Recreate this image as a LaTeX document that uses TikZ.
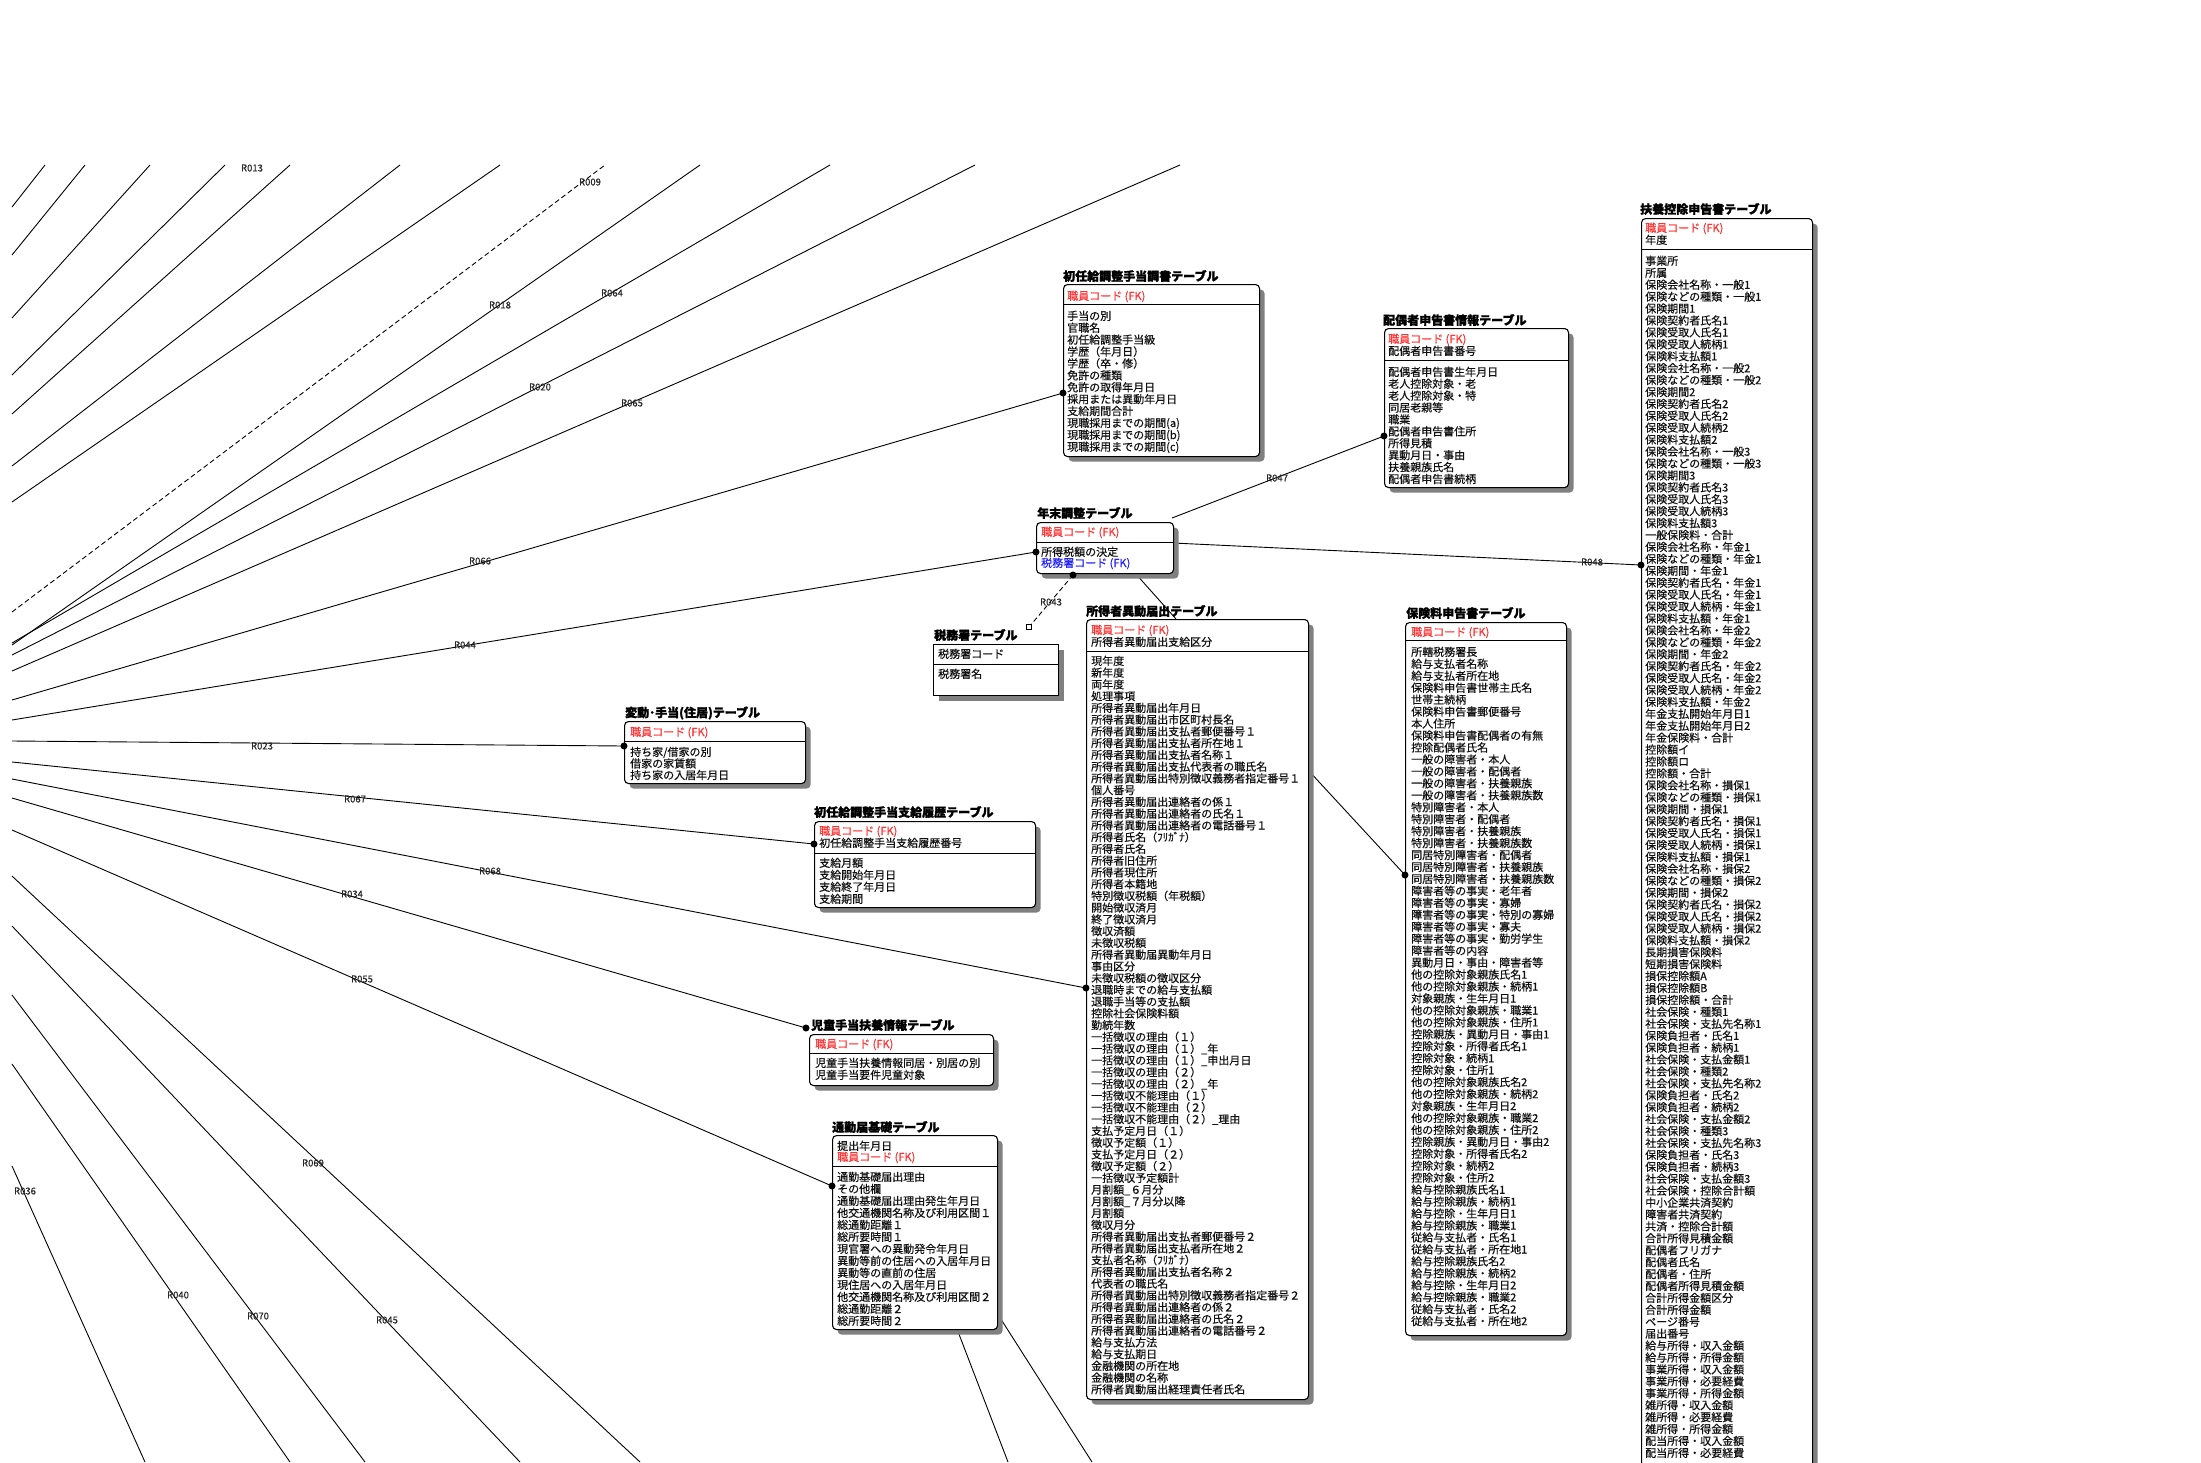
\documentclass[tikz,border=0pt]{standalone}
\usepackage{fontspec}
\setmainfont{Noto Sans CJK JP}
\newfontfamily\attrfont{Noto Sans CJK JP}[FakeBold=0.45]
\newfontfamily\heavyfont{Noto Sans CJK JP}[FakeBold=1.6]
\usetikzlibrary{shadows}
\definecolor{fkred}{HTML}{FF3333}
\definecolor{fkblue}{HTML}{2222FF}
\definecolor{txt}{HTML}{111111}
\tikzset{
 tbox/.style={draw=black, line width=1.1pt, rounded corners=4pt, fill=white, inner sep=0pt, anchor=north west,
   drop shadow={shadow xshift=5pt, shadow yshift=-5pt, fill=black!50, opacity=1}},
 tboxsq/.style={tbox, rounded corners=0pt},
 ttl/.style={font=\heavyfont\fontsize{12}{12}\selectfont\bfseries, anchor=west, inner sep=0pt, text=black},
 attr/.style={font=\attrfont\fontsize{11}{12}\selectfont, anchor=base west, inner sep=0pt, text=txt},
 fkattr/.style={attr, text=fkred},
 fbattr/.style={attr, text=fkblue},
 divl/.style={line width=1pt},
 rline/.style={line width=0.9pt, draw=black},
 rlab/.style={font=\attrfont\fontsize{9.5}{10}\selectfont, text=black!85, inner sep=0.5pt},
 cdot/.style={circle, fill=black, inner sep=0pt, minimum size=7pt},
}
\newcommand\attrlist[5]{%
  \foreach \t [count=\i from 0] in {#5} {\node[attr] (#1\i) at ({#2},{#3+4+\i*#4}) {\t};}}
\begin{document}
\begin{tikzpicture}[x=1pt,y=-1pt]
\path[use as bounding box] (0,0) rectangle (2201,1462);
\clip (0,0) rectangle (2201,1462);
\fill[white] (0,0) rectangle (2201,1462);

% ---------- free ends of the fan ----------
\coordinate (la1) at (12,207);  \coordinate (ta1) at (45,165);
\coordinate (la2) at (12,255);  \coordinate (ta2) at (85,165);
\coordinate (la3) at (12,318);  \coordinate (ta3) at (150,165);
\coordinate (la4) at (12,375);  \coordinate (ta4) at (225,165);
\coordinate (la5) at (12,414);  \coordinate (ta5) at (290,165);
\coordinate (la6) at (12,466);  \coordinate (ta6) at (400,165);
\coordinate (la7) at (12,502);  \coordinate (ta7) at (500,165);
\coordinate (l09) at (12,612);  \coordinate (t09) at (605,165);
\coordinate (l18) at (12,645);  \coordinate (t18) at (700,165);
\coordinate (l64) at (12,643);  \coordinate (t64) at (830,165);
\coordinate (l20) at (12,655);  \coordinate (t20) at (975,165);
\coordinate (l65) at (12,671);  \coordinate (t65) at (1180,165);
\coordinate (l66) at (12,700);  \coordinate (e66) at (1063,393);
\coordinate (l44) at (12,720);  \coordinate (e44) at (1036,552);
\coordinate (l23) at (12,741);  \coordinate (e23) at (624,746);
\coordinate (l67) at (12,762);  \coordinate (e67) at (814,844);
\coordinate (l68) at (12,779);  \coordinate (e68) at (1086,988);
\coordinate (l34) at (12,798);  \coordinate (e34) at (806,1028);
\coordinate (l55) at (12,830);  \coordinate (e55) at (832,1186);
\coordinate (l69) at (12,876);  \coordinate (b69) at (640,1462);
\coordinate (l45) at (12,926);  \coordinate (b45) at (520,1462);
\coordinate (l70) at (12,995);  \coordinate (b70) at (365,1462);
\coordinate (l40) at (12,1064); \coordinate (b40) at (290,1462);
\coordinate (l36) at (12,1166); \coordinate (b36) at (145,1462);

\foreach \k in {1,...,7} {\draw[rline] (la\k) -- (ta\k);}
\draw[rline, dash pattern=on 5pt off 3pt] (l09) -- (t09);
\foreach \k in {18,64,20,65} {\draw[rline] (l\k) -- (t\k);}
\foreach \k in {66,44,23,67,68,34,55} {\draw[rline] (l\k) -- (e\k);}
\foreach \k in {69,45,70,40,36} {\draw[rline] (l\k) -- (b\k);}

% ---------- connectors between tables ----------
\coordinate (nmA) at (1172,518); \coordinate (e47) at (1384,436);
\coordinate (nmB) at (1173,543); \coordinate (e48) at (1641,565);
\coordinate (nmC) at (1135,573); \coordinate (siT) at (1176,619);
\coordinate (e43) at (1073,575);
\coordinate (siR) at (1308,770); \coordinate (eHK) at (1405,875);
\coordinate (tkB1) at (957,1329); \coordinate (bT1) at (1008,1462);
\coordinate (tkB2) at (997,1313); \coordinate (bT2) at (1092,1462);
\draw[rline] (nmA) -- (e47);
\draw[rline] (nmB) -- (e48);
\draw[rline] (nmC) -- (siT);
\draw[rline] (siR) -- (eHK);
\draw[rline] (tkB1) -- (bT1);
\draw[rline] (tkB2) -- (bT2);
\node[draw, fill=white, minimum size=5pt, inner sep=0pt, line width=0.7pt] (sq43) at (1029,627) {};
\draw[rline, dash pattern=on 5pt off 3pt] (e43) -- (sq43);

% ---------- 初任給調整手当調書テーブル ----------
\node[ttl] (skT) at (1063,276) {初任給調整手当調書テーブル};
\node[tbox, minimum width=196pt, minimum height=172pt] (sk) at (1063,284) {};
\draw[divl] ([yshift=-20pt]sk.north west) -- ([yshift=-20pt]sk.north east);
\node[fkattr] (skK) at (1067,300) {職員コード (FK)};
\attrlist{sk}{1067}{316}{11.9}{手当の別,官職名,初任給調整手当級,学歴（年月日）,学歴（卒・修）,免許の種類,免許の取得年月日,採用または異動年月日,支給期間合計,現職採用までの期間(a),現職採用までの期間(b),現職採用までの期間(c)}

% ---------- 配偶者申告書情報テーブル ----------
\node[ttl] (hsT) at (1383,320) {配偶者申告書情報テーブル};
\node[tbox, minimum width=184pt, minimum height=159pt] (hs) at (1384,328) {};
\draw[divl] ([yshift=-32pt]hs.north west) -- ([yshift=-32pt]hs.north east);
\node[fkattr] (hsK1) at (1388,343) {職員コード (FK)};
\node[attr] (hsK2) at (1388,355) {配偶者申告書番号};
\attrlist{hs}{1388}{372}{11.9}{配偶者申告書生年月日,老人控除対象・老,老人控除対象・特,同居老親等,職業,配偶者申告書住所,所得見積,異動月日・事由,扶養親族氏名,配偶者申告書続柄}

% ---------- 扶養控除申告書テーブル ----------
\node[ttl] (fyT) at (1640,209) {扶養控除申告書テーブル};
\node[tbox, minimum width=171pt, minimum height=1300pt] (fy) at (1641,218) {};
\draw[divl] ([yshift=-31pt]fy.north west) -- ([yshift=-31pt]fy.north east);
\node[fkattr] (fyK1) at (1645,232) {職員コード (FK)};
\node[attr] (fyK2) at (1645,244) {年度};
\attrlist{fy}{1645}{261}{11.92}{事業所,所属,保険会社名称・一般1,保険などの種類・一般1,保険期間1,保険契約者氏名1,保険受取人氏名1,保険受取人続柄1,保険料支払額1,保険会社名称・一般2,保険などの種類・一般2,保険期間2,保険契約者氏名2,保険受取人氏名2,保険受取人続柄2,保険料支払額2,保険会社名称・一般3,保険などの種類・一般3,保険期間3,保険契約者氏名3,保険受取人氏名3,保険受取人続柄3,保険料支払額3,一般保険料・合計,保険会社名称・年金1,保険などの種類・年金1,保険期間・年金1,保険契約者氏名・年金1,保険受取人氏名・年金1,保険受取人続柄・年金1,保険料支払額・年金1,保険会社名称・年金2,保険などの種類・年金2,保険期間・年金2,保険契約者氏名・年金2,保険受取人氏名・年金2,保険受取人続柄・年金2,保険料支払額・年金2,年金支払開始年月日1,年金支払開始年月日2,年金保険料・合計,控除額イ,控除額ロ,控除額・合計,保険会社名称・損保1,保険などの種類・損保1,保険期間・損保1,保険契約者氏名・損保1,保険受取人氏名・損保1,保険受取人続柄・損保1,保険料支払額・損保1,保険会社名称・損保2,保険などの種類・損保2,保険期間・損保2,保険契約者氏名・損保2,保険受取人氏名・損保2,保険受取人続柄・損保2,保険料支払額・損保2,長期損害保険料,短期損害保険料,損保控除額A,損保控除額B,損保控除額・合計,社会保険・種類1,社会保険・支払先名称1,保険負担者・氏名1,保険負担者・続柄1,社会保険・支払金額1,社会保険・種類2,社会保険・支払先名称2,保険負担者・氏名2,保険負担者・続柄2,社会保険・支払金額2,社会保険・種類3,社会保険・支払先名称3,保険負担者・氏名3,保険負担者・続柄3,社会保険・支払金額3,社会保険・控除合計額,中小企業共済契約,障害者共済契約,共済・控除合計額,合計所得見積金額,配偶者フリガナ,配偶者氏名,配偶者・住所,配偶者所得見積金額,合計所得金額区分,合計所得金額,ページ番号,届出番号,給与所得・収入金額,給与所得・所得金額,事業所得・収入金額,事業所得・必要経費,事業所得・所得金額,雑所得・収入金額,雑所得・必要経費,雑所得・所得金額,配当所得・収入金額,配当所得・必要経費}

% ---------- 年末調整テーブル ----------
\node[ttl] (nmT) at (1037,513) {年末調整テーブル};
\node[tbox, minimum width=137pt, minimum height=51pt] (nm) at (1036,522) {};
\draw[divl] ([yshift=-20pt]nm.north west) -- ([yshift=-20pt]nm.north east);
\node[fkattr] (nmK) at (1041,536) {職員コード (FK)};
\node[attr] (nm0) at (1041,556) {所得税額の決定};
\node[fbattr] (nm1) at (1041,567) {税務署コード (FK)};

% ---------- 税務署テーブル ----------
\node[ttl] (zmT) at (934,635) {税務署テーブル};
\node[tboxsq, minimum width=125pt, minimum height=51pt] (zm) at (933,644) {};
\draw[divl] ([yshift=-20pt]zm.north west) -- ([yshift=-20pt]zm.north east);
\node[attr] (zmK) at (938,658) {税務署コード};
\node[attr] (zm0) at (938,678) {税務署名};

% ---------- 所得者異動届出テーブル ----------
\node[ttl] (siTt) at (1086,611) {所得者異動届出テーブル};
\node[tbox, minimum width=222pt, minimum height=780pt] (si) at (1086,619) {};
\draw[divl] ([yshift=-32pt]si.north west) -- ([yshift=-32pt]si.north east);
\node[fkattr] (siK1) at (1091,634) {職員コード (FK)};
\node[attr] (siK2) at (1091,646) {所得者異動届出支給区分};
\attrlist{si}{1091}{661}{11.75}{現年度,新年度,両年度,処理事項,所得者異動届出年月日,所得者異動届出市区町村長名,所得者異動届出支払者郵便番号１,所得者異動届出支払者所在地１,所得者異動届出支払者名称１,所得者異動届出支払代表者の職氏名,所得者異動届出特別徴収義務者指定番号１,個人番号,所得者異動届出連絡者の係１,所得者異動届出連絡者の氏名１,所得者異動届出連絡者の電話番号１,所得者氏名（ﾌﾘｶﾞﾅ）,所得者氏名,所得者旧住所,所得者現住所,所得者本籍地,特別徴収税額（年税額）,開始徴収済月,終了徴収済月,徴収済額,未徴収税額,所得者異動届異動年月日,事由区分,未徴収税額の徴収区分,退職時までの給与支払額,退職手当等の支払額,控除社会保険料額,勤続年数,一括徴収の理由（１）,一括徴収の理由（１）\_年,一括徴収の理由（１）\_申出月日,一括徴収の理由（２）,一括徴収の理由（２）\_年,一括徴収不能理由（１）,一括徴収不能理由（２）,一括徴収不能理由（２）\_理由,支払予定月日（１）,徴収予定額（１）,支払予定月日（２）,徴収予定額（２）,一括徴収予定額計,月割額\_６月分,月割額\_７月分以降,月割額,徴収月分,所得者異動届出支払者郵便番号２,所得者異動届出支払者所在地２,支払者名称（ﾌﾘｶﾞﾅ）,所得者異動届出支払者名称２,代表者の職氏名,所得者異動届出特別徴収義務者指定番号２,所得者異動届出連絡者の係２,所得者異動届出連絡者の氏名２,所得者異動届出連絡者の電話番号２,給与支払方法,給与支払期日,金融機関の所在地,金融機関の名称,所得者異動届出経理責任者氏名}

% ---------- 保険料申告書テーブル ----------
\node[ttl] (hkT) at (1406,613) {保険料申告書テーブル};
\node[tbox, minimum width=161pt, minimum height=713pt] (hk) at (1405,622) {};
\draw[divl] ([yshift=-18pt]hk.north west) -- ([yshift=-18pt]hk.north east);
\node[fkattr] (hkK) at (1411,636) {職員コード (FK)};
\attrlist{hk}{1411}{652}{11.95}{所轄税務署長,給与支払者名称,給与支払者所在地,保険料申告書世帯主氏名,世帯主続柄,保険料申告書郵便番号,本人住所,保険料申告書配偶者の有無,控除配偶者氏名,一般の障害者・本人,一般の障害者・配偶者,一般の障害者・扶養親族,一般の障害者・扶養親族数,特別障害者・本人,特別障害者・配偶者,特別障害者・扶養親族,特別障害者・扶養親族数,同居特別障害者・配偶者,同居特別障害者・扶養親族,同居特別障害者・扶養親族数,障害者等の事実・老年者,障害者等の事実・寡婦,障害者等の事実・特別の寡婦,障害者等の事実・寡夫,障害者等の事実・勤労学生,障害者等の内容,異動月日・事由・障害者等,他の控除対象親族氏名1,他の控除対象親族・続柄1,対象親族・生年月日1,他の控除対象親族・職業1,他の控除対象親族・住所1,控除親族・異動月日・事由1,控除対象・所得者氏名1,控除対象・続柄1,控除対象・住所1,他の控除対象親族氏名2,他の控除対象親族・続柄2,対象親族・生年月日2,他の控除対象親族・職業2,他の控除対象親族・住所2,控除親族・異動月日・事由2,控除対象・所得者氏名2,控除対象・続柄2,控除対象・住所2,給与控除親族氏名1,給与控除親族・続柄1,給与控除・生年月日1,給与控除親族・職業1,従給与支払者・氏名1,従給与支払者・所在地1,給与控除親族氏名2,給与控除親族・続柄2,給与控除・生年月日2,給与控除親族・職業2,従給与支払者・氏名2,従給与支払者・所在地2}

% ---------- 変動･手当(住居)テーブル ----------
\node[ttl] (hdT) at (625,713) {変動･手当(住居)テーブル};
\node[tbox, minimum width=181pt, minimum height=62pt] (hd) at (624,721) {};
\draw[divl] ([yshift=-20pt]hd.north west) -- ([yshift=-20pt]hd.north east);
\node[fkattr] (hdK) at (630,736) {職員コード (FK)};
\attrlist{hd}{630}{752}{11.6}{持ち家/借家の別,借家の家賃額,持ち家の入居年月日}

% ---------- 初任給調整手当支給履歴テーブル ----------
\node[ttl] (srT) at (814,812) {初任給調整手当支給履歴テーブル};
\node[tbox, minimum width=221pt, minimum height=86pt] (sr) at (814,821) {};
\draw[divl] ([yshift=-32pt]sr.north west) -- ([yshift=-32pt]sr.north east);
\node[fkattr] (srK1) at (819,835) {職員コード (FK)};
\node[attr] (srK2) at (819,847) {初任給調整手当支給履歴番号};
\attrlist{sr}{819}{863}{12}{支給月額,支給開始年月日,支給終了年月日,支給期間}

% ---------- 児童手当扶養情報テーブル ----------
\node[ttl] (jdT) at (811,1025) {児童手当扶養情報テーブル};
\node[tbox, minimum width=184pt, minimum height=51pt] (jd) at (809,1034) {};
\draw[divl] ([yshift=-19pt]jd.north west) -- ([yshift=-19pt]jd.north east);
\node[fkattr] (jdK) at (815,1048) {職員コード (FK)};
\attrlist{jd}{815}{1063}{12}{児童手当扶養情報同居・別居の別,児童手当要件児童対象}

% ---------- 通勤届基礎テーブル ----------
\node[ttl] (tkT) at (832,1127) {通勤届基礎テーブル};
\node[tbox, minimum width=165pt, minimum height=194pt] (tk) at (832,1135) {};
\draw[divl] ([yshift=-31pt]tk.north west) -- ([yshift=-31pt]tk.north east);
\node[attr] (tkK1) at (837,1150) {提出年月日};
\node[fkattr] (tkK2) at (837,1161) {職員コード (FK)};
\attrlist{tk}{837}{1177}{12}{通勤基礎届出理由,その他欄,通勤基礎届出理由発生年月日,他交通機関名称及び利用区間１,総通勤距離１,総所要時間１,現官署への異動発令年月日,異動等前の住居への入居年月日,異動等の直前の住居,現住居への入居年月日,他交通機関名称及び利用区間２,総通勤距離２,総所要時間２}

% ---------- dots ----------
\foreach \k in {66,44,23,67,68,34,55,47,48,43} {\node[cdot] (d\k) at (e\k) {};}
\node[cdot] (dHK) at (eHK) {};

% ---------- relation labels ----------
\node[rlab] (r013) at (252,168) {R013};
\node[rlab] (r009) at (590,182) {R009};
\node[rlab] (r018) at (500,305) {R018};
\node[rlab] (r064) at (612,293) {R064};
\node[rlab] (r020) at (540,387) {R020};
\node[rlab] (r065) at (632,403) {R065};
\node[rlab] (r066) at (480,561) {R066};
\node[rlab] (r044) at (465,645) {R044};
\node[rlab] (r023) at (262,746) {R023};
\node[rlab] (r067) at (355,799) {R067};
\node[rlab] (r068) at (490,871) {R068};
\node[rlab] (r034) at (352,894) {R034};
\node[rlab] (r055) at (362,979) {R055};
\node[rlab] (r069) at (313,1163) {R069};
\node[rlab] (r036) at (25,1191) {R036};
\node[rlab] (r040) at (178,1295) {R040};
\node[rlab] (r070) at (258,1316) {R070};
\node[rlab] (r045) at (387,1320) {R045};
\node[rlab] (r047) at (1277,478) {R047};
\node[rlab] (r048) at (1592,562) {R048};
\node[rlab] (r043) at (1051,602) {R043};
\end{tikzpicture}
\end{document}
